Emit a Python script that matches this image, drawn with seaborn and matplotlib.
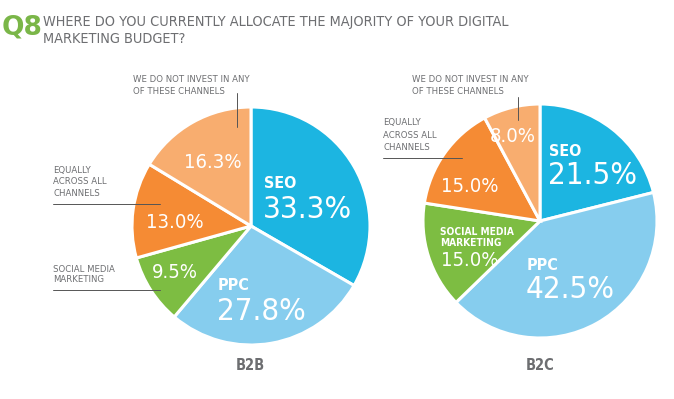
import matplotlib
matplotlib.use("Agg")
import matplotlib.pyplot as plt
import seaborn as sns

# data
channels = ["SEO", "PPC", "Social Media Marketing", "Equally across all channels",
            "We do not invest in any of these channels"]
b2b_share = [33.3, 27.8, 9.5, 13.0, 16.3]
b2c_share = [21.5, 42.5, 15.0, 15.0, 8.0]
pie_titles = ["B2B", "B2C"]
slice_colors = ["#1cb5e1", "#86cdee", "#7dbd42", "#f58b34", "#f8ad6f"]

sns.set_theme(style="white")
plt.rcParams["font.family"] = ["DejaVu Sans"]
plt.rcParams["font.stretch"] = "condensed"

GREY = "#6d6e71"
H = 399

fig = plt.figure(figsize=(6.74, 3.99), dpi=100)
ax = fig.add_axes([0, 0, 1, 1])

def y(v):
    # image row -> data y
    return H - v

wedge = dict(edgecolor="white", linewidth=2.2)
ax.pie(b2b_share, colors=slice_colors, startangle=90, counterclock=False,
       center=(251, y(226)), radius=119, wedgeprops=wedge, frame=True)
ax.pie(b2c_share, colors=slice_colors, startangle=90, counterclock=False,
       center=(540, y(221)), radius=117, wedgeprops=wedge, frame=True)
ax.set_xlim(0, 674)
ax.set_ylim(0, H)
ax.axis("off")

# title
ax.text(2, y(28), "Q8", color="#7ab648", fontsize=19, fontweight="bold",
        va="center", ha="left", fontstretch="normal")
ax.text(43, y(22), "WHERE DO YOU CURRENTLY ALLOCATE THE MAJORITY OF YOUR DIGITAL",
        color=GREY, fontsize=10.4, va="center")
ax.text(43, y(39), "MARKETING BUDGET?", color=GREY, fontsize=10.4, va="center")

def pct(v):
    return f"{v:.1f}%"

W = "white"
# B2B inside labels
ax.text(264, y(184), "SEO", color=W, fontsize=11.5, fontweight="bold", va="center")
ax.text(263, y(209), pct(b2b_share[0]), color=W, fontsize=22.5, va="center")
ax.text(218, y(286), "PPC", color=W, fontsize=11.5, fontweight="bold", va="center")
ax.text(217, y(311), pct(b2b_share[1]), color=W, fontsize=22.5, va="center")
ax.text(175, y(272), pct(b2b_share[2]), color=W, fontsize=14.5, ha="center", va="center")
ax.text(175, y(223), pct(b2b_share[3]), color=W, fontsize=14.5, ha="center", va="center")
ax.text(213, y(162), pct(b2b_share[4]), color=W, fontsize=14.5, ha="center", va="center")

# B2C inside labels
ax.text(549, y(152), "SEO", color=W, fontsize=11.5, fontweight="bold", va="center")
ax.text(548, y(176), pct(b2c_share[0]), color=W, fontsize=22.5, va="center")
ax.text(527, y(265), "PPC", color=W, fontsize=11.5, fontweight="bold", va="center")
ax.text(526, y(290), pct(b2c_share[1]), color=W, fontsize=22.5, va="center")
ax.text(440, y(232), "SOCIAL MEDIA", color=W, fontsize=7.3, fontweight="bold", va="center")
ax.text(440, y(243), "MARKETING", color=W, fontsize=7.3, fontweight="bold", va="center")
ax.text(470, y(261), pct(b2c_share[2]), color=W, fontsize=14.5, ha="center", va="center")
ax.text(470, y(187), pct(b2c_share[3]), color=W, fontsize=14.5, ha="center", va="center")
ax.text(513, y(136), pct(b2c_share[4]), color=W, fontsize=14.5, ha="center", va="center")

# outside callouts
small = dict(color=GREY, fontsize=6.8, va="center")
line_kw = dict(color="#555555", linewidth=0.7)

ax.text(133, y(79), "WE DO NOT INVEST IN ANY", **small)
ax.text(133, y(92), "OF THESE CHANNELS", **small)
ax.plot([237, 237], [y(93), y(127)], **line_kw)
ax.text(53, y(170), "EQUALLY", **small)
ax.text(53, y(182), "ACROSS ALL", **small)
ax.text(53, y(194), "CHANNELS", **small)
ax.plot([53, 160], [y(204), y(204)], **line_kw)
ax.text(53, y(269), "SOCIAL MEDIA", **small)
ax.text(53, y(280), "MARKETING", **small)
ax.plot([53, 160], [y(290), y(290)], **line_kw)

ax.text(412, y(79), "WE DO NOT INVEST IN ANY", **small)
ax.text(412, y(92), "OF THESE CHANNELS", **small)
ax.plot([518, 518], [y(97), y(120)], **line_kw)
ax.text(383, y(123), "EQUALLY", **small)
ax.text(383, y(135), "ACROSS ALL", **small)
ax.text(383, y(147), "CHANNELS", **small)
ax.plot([383, 462], [y(158), y(158)], **line_kw)

ax.text(250, y(365), pie_titles[0], color=GREY, fontsize=10.5, fontweight="bold",
        ha="center", va="center")
ax.text(540, y(365), pie_titles[1], color=GREY, fontsize=10.5, fontweight="bold",
        ha="center", va="center")

fig.savefig("out.png", dpi=100, facecolor="white")
